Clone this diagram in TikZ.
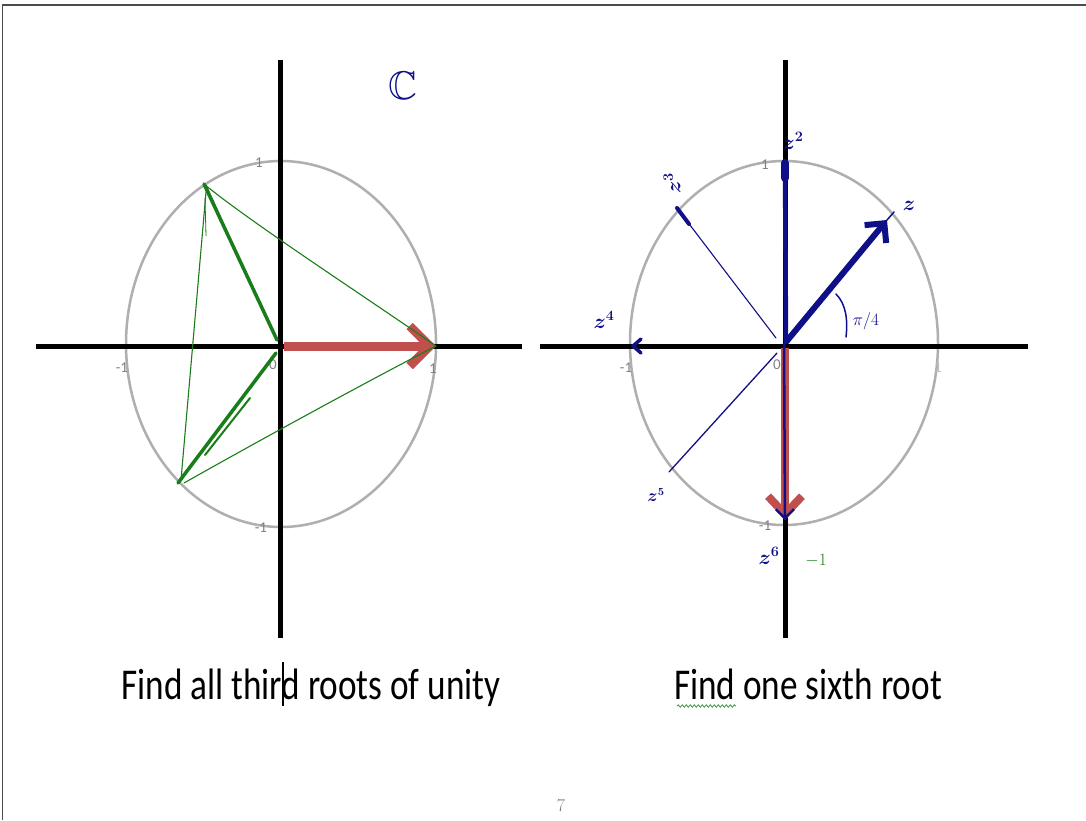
\documentclass[tikz,border=0pt]{standalone}
\usepackage{fontspec}
\usepackage{amssymb}
\usetikzlibrary{arrows.meta,decorations.pathmorphing}
\newfontfamily\calibri{Carlito}
\definecolor{axisgray}{RGB}{175,175,175}
\definecolor{inkgreen}{RGB}{25,125,25}
\definecolor{inkblue}{RGB}{15,15,135}
\definecolor{slidered}{RGB}{192,80,77}
\tikzset{
  axisline/.style={line width=5pt, black},
  unitcircle/.style={draw=axisgray, line width=2.5pt},
  ticklabel/.style={text=gray, font=\calibri\fontsize{15}{15}\selectfont, inner sep=0pt},
  redarrow/.style={slidered, line width=9pt, -{Straight Barb[length=20pt,width=40pt]}},
  greenthick/.style={inkgreen, line width=3pt, line cap=round},
  greenthin/.style={inkgreen, line width=1.1pt, line cap=round},
  bluethick/.style={inkblue, line width=5pt, line cap=round},
  bluethin/.style={inkblue, line width=1.1pt, line cap=round},
  hand/.style={text=inkblue, font=\boldmath\fontsize{20}{20}\selectfont, inner sep=0pt},
  caption/.style={font=\calibri\fontsize{44}{44}\selectfont, xscale=0.8, inner sep=0pt, anchor=base},
}
\begin{document}
\begin{tikzpicture}[x=1pt,y=-1pt]
\useasboundingbox (0,0) rectangle (1086,820);
\fill[white] (0,0) rectangle (1086,820);
% page border
\draw[line width=1.6pt, black!70] (2,5) -- (1086,5);
\draw[line width=1pt, black!70] (2,5) -- (2,820);

% ---------------- left diagram ----------------
\coordinate (LO) at (281,344);
\coordinate (LT) at (280,60);
\coordinate (LB) at (280,638);
\coordinate (LL) at (36,346);
\coordinate (LR) at (522,346);
\draw[unitcircle] (LO) ellipse [x radius=155pt, y radius=183pt];
\draw[axisline] (LT) -- (LB);
\draw[axisline] (LL) -- (LR);
\node[ticklabel] (l1) at (259,163) {1};
\node[ticklabel] (lm1) at (122,368) {-1};
\node[ticklabel] (l0) at (273,365) {0};
\node[ticklabel] (lr1) at (433,369) {1};
\node[ticklabel] (lb1) at (261,528) {-1};

\coordinate (gA) at (204,184);
\coordinate (gB) at (178,483);
\coordinate (gC) at (436,346);
\coordinate (gO1) at (277,340);
\coordinate (gO2) at (276,353);
\coordinate (rS) at (284,346);
\draw[redarrow] (rS) -- (gC);
\draw[greenthick, line width=3.5pt] (gA) -- (gO1);
\draw[greenthick, line width=2pt] (206,186) -- (240,262);
\draw[greenthick, line width=3.5pt] (gB) -- (gO2);
\draw[greenthick, line width=2pt] (205,455) -- (250,398);
\draw[greenthin] (gA) .. controls (250,222) and (370,300) .. (gC);
\draw[greenthin] (184,483) .. controls (260,440) and (370,380) .. (gC);
\draw[greenthin] (206,192) -- (181,480);
\draw[greenthin, line width=0.8pt] (205,198) -- (206,236);

\node[text=inkblue, font=\fontsize{40}{40}\selectfont, inner sep=0pt] (CC) at (403,86) {$\mathbb{C}$};

% ---------------- right diagram ----------------
\coordinate (RO) at (784,343);
\coordinate (RT) at (785,60);
\coordinate (RB) at (785,638);
\coordinate (RL) at (540,346);
\coordinate (RR) at (1028,346);
\draw[unitcircle] (RO) ellipse [x radius=154pt, y radius=182pt];
\draw[axisline] (RT) -- (RB);
\draw[axisline] (RL) -- (RR);
\node[ticklabel] (r1) at (765,165) {1};
\node[ticklabel] (rm1) at (626,368) {-1};
\node[ticklabel] (r0) at (777,365) {0};
\node[ticklabel, text=gray!50] (rr1) at (938,368) {1};
\node[ticklabel] (rb1) at (765,526) {-1};

\coordinate (zO) at (786,342);
\coordinate (z1) at (887,220);
\coordinate (z1e) at (894,212);
\coordinate (z2) at (785,166);
\coordinate (z3) at (677,208);
\coordinate (z3s) at (776,338);
\coordinate (z4) at (633,346);
\coordinate (z5) at (669,472);
\coordinate (z5s) at (777,353);
\coordinate (z6) at (785,520);
\coordinate (rD) at (785,348);

% z^6 (red + blue) downwards
\draw[slidered, line width=8pt, -{Straight Barb[length=18pt,width=34pt]}] (rD) -- (z6);
\draw[inkblue, line width=2.5pt, -{Straight Barb[length=9pt,width=18pt]}] (RO) -- (z6);
% z^2
\draw[bluethick, line width=4.5pt] (zO) -- (z2);
\draw[bluethick, line width=8pt] (785,163) -- (785,178);
% z
\draw[inkblue, line width=6pt, -{Straight Barb[length=14pt,width=28pt]}] (zO) -- (z1);
\draw[bluethin, line width=1.5pt] (z1) -- (z1e);
% z^3
\draw[bluethin] (z3s) -- (z3);
\draw[bluethick, line width=4pt] (z3) -- (689,224);
% z^4 head
\draw[bluethick, line width=3.5pt, line join=round] (641,339) -- (z4) -- (641,353);
% z^5
\draw[bluethin, line width=1.3pt] (z5s) -- (z5);
% angle arc
\coordinate (aS) at (836,294);
\coordinate (aE) at (846,337);
\draw[bluethin, line width=1.5pt] (aS) .. controls (846,304) and (848,320) .. (aE);

\node[hand] (Lz1) at (909,206) {$z$};
\node[hand] (Lz2) at (793,141) {$z^2$};
\node[hand, rotate=90] (Lz3) at (672,183) {$z^3$};
\node[hand] (Lz4) at (604,320) {$z^4$};
\node[hand, font=\boldmath\fontsize{16}{16}\selectfont] (Lz5) at (656,495) {$z^5$};
\node[hand] (Lz6) at (769,556) {$z^6$};
\node[hand, font=\fontsize{18}{18}\selectfont] (Lpi) at (866,321) {$\pi/4$};
\node[hand, text=inkgreen, font=\fontsize{18}{18}\selectfont] (Lm1) at (816,561) {$-1$};

% ---------------- captions ----------------
\node[caption] (cap1) at (311,699) {Find all third roots of unity};
\node[caption] (cap2) at (808,699) {Find one sixth root};
\coordinate (cur1) at (283,662);
\coordinate (cur2) at (283,706);
\draw[black, line width=1.8pt] (cur1) -- (cur2);
\coordinate (w1) at (677,706);
\coordinate (w2) at (736,706);
\draw[inkgreen!80!white, line width=0.8pt, decorate, decoration={snake, amplitude=1.2pt, segment length=4pt}] (w1) -- (w2);

\node[text=gray, font=\fontsize{18}{18}\selectfont, inner sep=0pt] (pg) at (561,806) {7};
\end{tikzpicture}
\end{document}
